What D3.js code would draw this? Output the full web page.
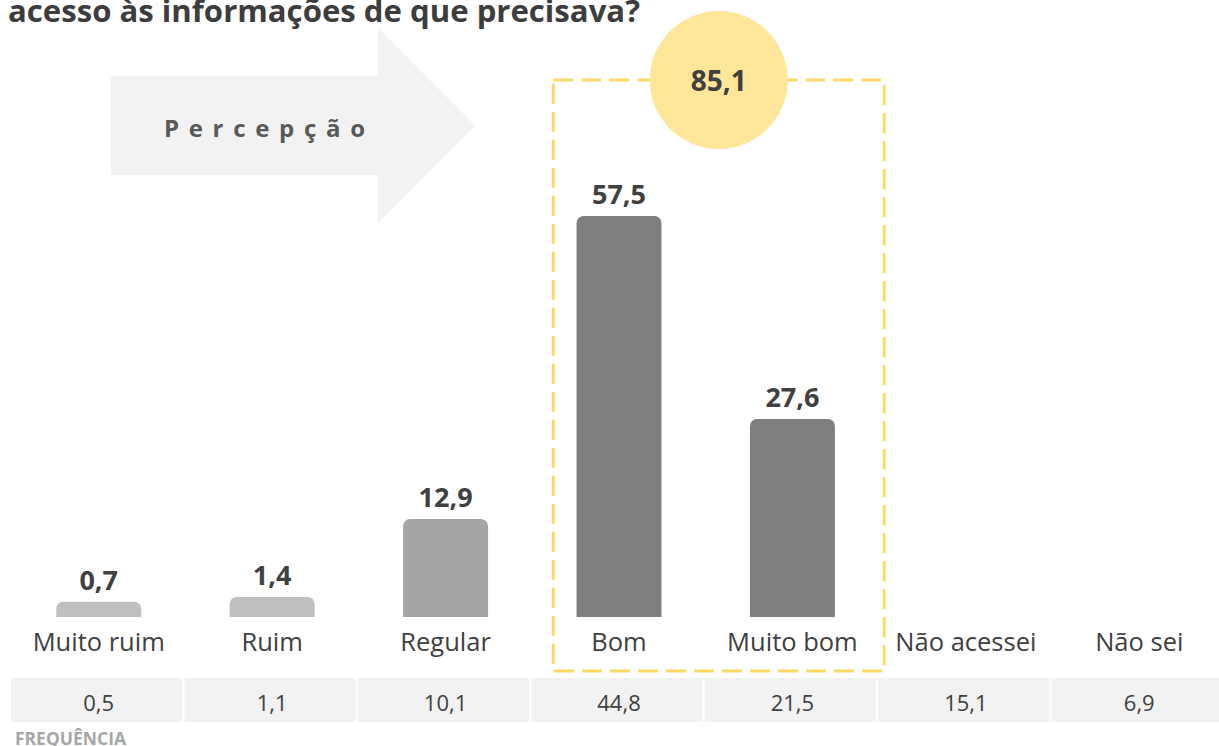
<!DOCTYPE html>
<html>
<head>
<meta charset="utf-8">
<script src="https://cdn.jsdelivr.net/npm/d3@7"></script>
<style>
  body { margin: 0; background: #fff; }
  svg text { font-family: "Open Sans", sans-serif; }
</style>
</head>
<body>
<div id="chart"></div>
<script>
// dados
var categorias = ["Muito ruim", "Ruim", "Regular", "Bom", "Muito bom", "Não acessei", "Não sei"];
var percepcao = [0.7, 1.4, 12.9, 57.5, 27.6, null, null];
var frequencia = [0.5, 1.1, 10.1, 44.8, 21.5, 15.1, 6.9];
var destaque = ["Bom", "Muito bom"];
var totalPositivo = 85.1;
var titulo = "acesso às informações de que precisava?";
var rotuloSeta = "Percepção";
var rotuloTabela = "FREQUÊNCIA";

// dimensoes
var width = 1219,
    height = 746;
var baseBarras = 617;

// formato com virgula decimal
var ptBR = d3.formatLocale({decimal: ",", thousands: ".", grouping: [3], currency: ["R$", ""]});
var fmt = ptBR.format(".1f");

var cores = d3.scaleOrdinal()
    .domain(categorias)
    .range(["#bfbfbf", "#bfbfbf", "#a5a5a5", "#7f7f7f", "#7f7f7f", "#7f7f7f", "#7f7f7f"]);

// barra com cantos de cima arredondados
function barraArredondada(x, y, w, h, r) {
  r = Math.min(r, h, w / 2);
  return "M" + x + "," + (y + h) +
         "V" + (y + r) +
         "A" + r + "," + r + " 0 0 1 " + (x + r) + "," + y +
         "H" + (x + w - r) +
         "A" + r + "," + r + " 0 0 1 " + (x + w) + "," + (y + r) +
         "V" + (y + h) + "Z";
}

function drawChart() {
  var dados = categorias.map(function (c, i) {
    return {cat: c, valor: percepcao[i], freq: frequencia[i]};
  });

  var svg = d3.select("#chart")
              .append("svg")
              .attr("width", width)
              .attr("height", height);

  var xScale = d3.scaleBand()
                 .domain(categorias)
                 .range([12, 1226]);
  var yScale = d3.scaleLinear()
                 .domain([0, d3.max(percepcao)])
                 .range([606.5, 216]);
  var larguraBarra = xScale.bandwidth() * 0.49;

  // titulo (cortado no topo)
  svg.append("text")
     .attr("x", 8)
     .attr("y", 22)
     .attr("textLength", 632)
     .attr("lengthAdjust", "spacingAndGlyphs")
     .style("font-size", "31px")
     .style("font-weight", "700")
     .style("fill", "#3d3d3d")
     .text(titulo);

  // seta "Percepção"
  svg.append("path")
     .attr("d", "M111,76H378V28L475,125.5L378,223V175H111Z")
     .style("fill", "#f2f2f2");
  svg.append("text")
     .attr("x", 164)
     .attr("y", 137)
     .attr("textLength", 201)
     .attr("lengthAdjust", "spacing")
     .style("font-size", "24px")
     .style("font-weight", "700")
     .style("fill", "#595959")
     .text(rotuloSeta);

  // caixa tracejada em volta de Bom + Muito bom
  var x0 = xScale(destaque[0]) + 21,
      x1 = xScale(destaque[destaque.length - 1]) + xScale.bandwidth() + 5;
  svg.append("rect")
     .attr("x", x0)
     .attr("y", 80)
     .attr("width", x1 - x0)
     .attr("height", 671 - 80)
     .style("fill", "none")
     .style("stroke", "#ffd966")
     .style("stroke-width", 3)
     .style("stroke-dasharray", "20 8");

  // circulo com o total positivo
  var cx = (x0 + x1) / 2;
  svg.append("circle")
     .attr("cx", cx)
     .attr("cy", 80)
     .attr("r", 69)
     .style("fill", "#ffe699");
  svg.append("text")
     .attr("x", cx)
     .attr("y", 91)
     .attr("text-anchor", "middle")
     .style("font-size", "28px")
     .style("font-weight", "700")
     .style("fill", "#404040")
     .text(fmt(totalPositivo));

  // barras
  var comValor = dados.filter(function (d) { return d.valor != null; });
  svg.append("g")
     .selectAll("path")
     .data(comValor)
     .enter()
     .append("path")
     .attr("d", function (d) {
       var x = xScale(d.cat) + (xScale.bandwidth() - larguraBarra) / 2;
       var y = yScale(d.valor);
       return barraArredondada(x, y, larguraBarra, baseBarras - y, 7);
     })
     .style("fill", function (d) { return cores(d.cat); });

  // rotulos de valor
  svg.append("g")
     .selectAll("text")
     .data(comValor)
     .enter()
     .append("text")
     .attr("x", function (d) { return xScale(d.cat) + xScale.bandwidth() / 2; })
     .attr("y", function (d) { return yScale(d.valor) - 12; })
     .attr("text-anchor", "middle")
     .style("font-size", "27px")
     .style("font-weight", "700")
     .style("fill", "#404040")
     .text(function (d) { return fmt(d.valor); });

  // eixo de categorias
  var eixo = svg.append("g")
     .attr("transform", "translate(0," + 651 + ")")
     .call(d3.axisBottom(xScale).tickSize(0).tickPadding(0));
  eixo.select(".domain").remove();
  eixo.selectAll("text")
      .attr("dy", 0)
      .attr("y", 0)
      .style("font-family", "'Open Sans', sans-serif")
      .style("font-size", "25.5px")
      .style("fill", "#404040");

  // tabela de frequencia
  var tabela = svg.append("g");
  tabela.selectAll("rect")
     .data(dados)
     .enter()
     .append("rect")
     .attr("x", function (d) { return xScale(d.cat) - 1; })
     .attr("y", 678)
     .attr("width", xScale.step() - 2)
     .attr("height", 44)
     .style("fill", "#f2f2f2");
  tabela.selectAll("text")
     .data(dados)
     .enter()
     .append("text")
     .attr("x", function (d) { return xScale(d.cat) + xScale.bandwidth() / 2; })
     .attr("y", 711)
     .attr("text-anchor", "middle")
     .style("font-size", "22px")
     .style("fill", "#404040")
     .text(function (d) { return fmt(d.freq); });

  svg.append("text")
     .attr("x", 15)
     .attr("y", 745)
     .attr("textLength", 111)
     .attr("lengthAdjust", "spacingAndGlyphs")
     .style("font-size", "17px")
     .style("font-weight", "700")
     .style("fill", "#a6a6a6")
     .text(rotuloTabela);
}

drawChart();
</script>
</body>
</html>
